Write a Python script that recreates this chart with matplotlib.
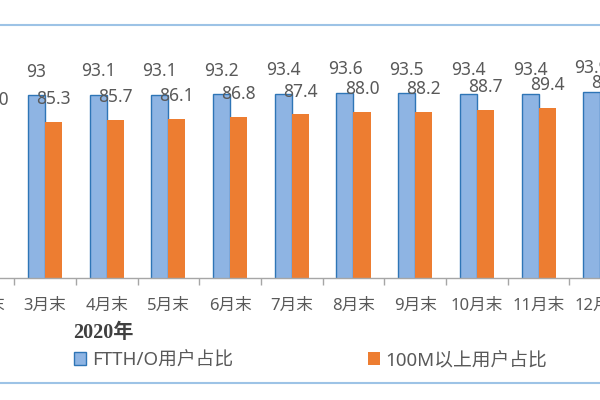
import matplotlib.pyplot as plt
from matplotlib.lines import Line2D
from matplotlib.patches import Patch

plt.rcParams['font.family'] = ['Noto Sans', 'Noto Sans CJK SC', 'DejaVu Sans']

# data, 2020 month-end (chart is cropped at both sides)
months = ["2月末", "3月末", "4月末", "5月末", "6月末", "7月末",
          "8月末", "9月末", "10月末", "11月末", "12月末"]
ftth = [92.9, 93.0, 93.1, 93.1, 93.2, 93.4, 93.6, 93.5, 93.4, 93.4, 93.9]
m100 = [85.0, 85.3, 85.7, 86.1, 86.8, 87.4, 88.0, 88.2, 88.7, 89.4, 89.9]
ftth_labels = ["92.9", "93", "93.1", "93.1", "93.2", "93.4", "93.6", "93.5", "93.4", "93.4", "93.9"]
m100_labels = ["%.1f" % v for v in m100]

blue = "#8EB4E3"
blue_edge = "#2E75B6"
orange = "#ED7D31"
grey_txt = "#595959"

fig = plt.figure(figsize=(6, 4), dpi=100)
ax = fig.add_axes([-0.2, 0.305, 1.4, 0.5175])

w = 0.276
x = list(range(len(months)))
xb = [i - w / 2 for i in x]
xo = [i + w / 2 for i in x]
ax.bar(xb, ftth, width=w, color=blue, edgecolor=blue_edge, linewidth=1.0)
ax.bar(xo, m100, width=w, color=orange, linewidth=0)

for xx, v, s in zip(xb, ftth, ftth_labels):
    ax.annotate(s, (xx, v), xytext=(0, 17), textcoords="offset points",
                ha="center", va="center", fontsize=12.5, color=grey_txt)
for xx, v, s in zip(xo, m100, m100_labels):
    ax.annotate(s, (xx, v), xytext=(0, 16.5), textcoords="offset points",
                ha="center", va="center", fontsize=12.5, color=grey_txt)

ax.set_xlim(-1.674, 11.94)
ax.set_ylim(40, 100)

ax.set_xticks(x)
ax.set_xticklabels(months, fontsize=12, color=grey_txt)
ax.set_xticks([i - 0.5 for i in range(len(months) + 1)], minor=True)
ax.tick_params(axis="x", which="major", length=0, pad=14)
ax.tick_params(axis="x", which="minor", length=5, width=1, color="#A6A6A6", direction="out")
ax.set_yticks([])
for s in ["top", "left", "right"]:
    ax.spines[s].set_visible(False)
ax.spines["bottom"].set_color("#A6A6A6")
ax.spines["bottom"].set_linewidth(1)

fig.text(73 / 600, 1 - 333 / 400, "2020年", ha="left", va="center",
         fontsize=14.5, fontweight="bold", color="#404040",
         family=["Liberation Serif", "Noto Sans CJK SC"])

handles = [Patch(facecolor=blue, edgecolor=blue_edge, linewidth=1.0),
           Patch(facecolor=orange, edgecolor="none")]
fig.legend(handles, ["FTTH/O用户占比", "100M以上用户占比"], ncol=2,
           loc="center left", bbox_to_anchor=(74 / 600, 1 - 360 / 400),
           frameon=False, fontsize=13.5, labelcolor=grey_txt,
           handlelength=0.65, handleheight=0.65, handletextpad=0.3,
           columnspacing=7.2, borderpad=0, borderaxespad=0)

# frame lines of the original picture
fig.add_artist(Line2D([0, 1], [1 - 24.5 / 400] * 2, color="#9DC3E6", linewidth=1.5))
fig.add_artist(Line2D([0, 1], [1 - 383 / 400] * 2, color="#9DC3E6", linewidth=1.5))

fig.savefig("out.png", dpi=100)
